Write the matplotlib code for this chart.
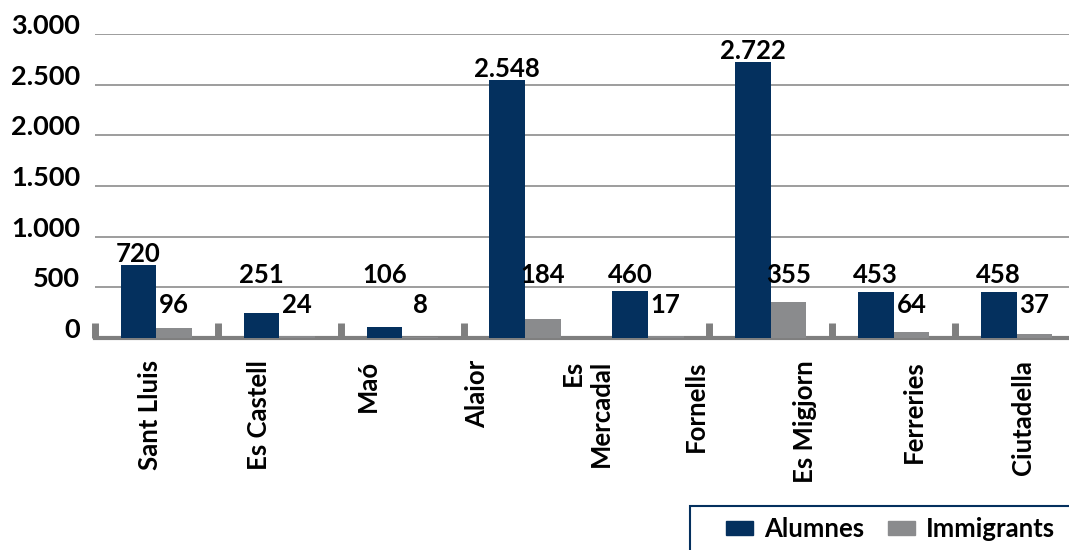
import matplotlib
matplotlib.use("Agg")
import matplotlib.pyplot as plt
from matplotlib.patches import Rectangle, Patch
from matplotlib.transforms import ScaledTranslation
import numpy as np

# ---- data ----
categories = ["Sant Lluis", "Es Castell", "Maó", "Alaior", "Es\nMercadal",
              "Fornells", "Es Migjorn", "Ferreries", "Ciutadella"]
alumnes = [720, 251, 106, 2548, 460, 2722, 453, 458]
immigrants = [96, 24, 8, 184, 17, 355, 64, 37]
series_names = ["Alumnes", "Immigrants"]
y_ticks = [0, 500, 1000, 1500, 2000, 2500, 3000]

NAVY = "#04305e"
GRAY = "#8a8b8d"
AXGRAY = "#7f7f7f"

plt.rcParams['font.family'] = ['Lato', 'DejaVu Sans']
FS = 18.5
WT = 700

W, H = 1069, 550
fig = plt.figure(figsize=(W / 100, H / 100), dpi=100)
x0, x1 = 95, 1078
y0, y1 = 338, 34
ax = fig.add_axes([x0 / W, 1 - y0 / H, (x1 - x0) / W, (y0 - y1) / H])

ngroups = len(alumnes)
pos = np.arange(ngroups) + 0.5
w = 0.29
ax.bar(pos - w / 2, alumnes, w, color=NAVY, zorder=5, label=series_names[0])
ax.bar(pos + w / 2, immigrants, w, color=GRAY, zorder=5, label=series_names[1])

fmt = lambda v: f"{int(v):,}".replace(",", ".")

for p, v in zip(pos, alumnes):
    ax.annotate(fmt(v), (p - w / 2, max(v, 515)), xytext=(0, 3), textcoords="offset pixels",
                ha="center", va="baseline", fontsize=FS, fontweight=WT, zorder=6)
for p, v in zip(pos, immigrants):
    yy = 515 if v > 150 else 215
    ax.annotate(fmt(v), (p + w / 2, yy), xytext=(0, 3), textcoords="offset pixels",
                ha="center", va="baseline", fontsize=FS, fontweight=WT, zorder=6)

ax.set_xlim(0, ngroups)
ax.set_ylim(0, 3000)
ax.set_yticks(y_ticks)
ax.tick_params(axis="y", length=0, labelleft=False)
ax.grid(axis="y", color="#8c8c8c", linewidth=1.2, zorder=0)
ax.set_axisbelow(True)

# y labels sitting on their gridlines (baseline-aligned)
ylab_tr = ax.get_yaxis_transform() + ScaledTranslation(-0.15, 0, fig.dpi_scale_trans)
for v in y_ticks:
    ax.text(0, v, fmt(v), transform=ylab_tr, ha="right", va="baseline",
            fontsize=19.5, fontweight=WT)

# category labels spread over 9 equal bins
lab_pos = (np.arange(len(categories)) + 0.5) * ngroups / len(categories)
ax.set_xticks(lab_pos)
ax.set_xticklabels(categories, rotation=90, ha="center", va="top",
                   multialignment="right", fontsize=FS, fontweight=WT)
ax.tick_params(axis="x", which="major", length=0, pad=16)
ax.set_xticks(np.arange(ngroups + 1), minor=True)
ax.tick_params(axis="x", which="minor", direction="in", length=11, width=5, color=AXGRAY)

for s in ["left", "right", "top"]:
    ax.spines[s].set_visible(False)
ax.spines["bottom"].set_color(AXGRAY)
ax.spines["bottom"].set_linewidth(3)
ax.spines["bottom"].set_zorder(4)

# legend frame (cut by figure edge)
fig.patches.append(Rectangle((690 / W, -0.2), 1, (H - 506) / H + 0.2, transform=fig.transFigure,
                             fill=False, ec=NAVY, lw=1.5))
handles = [Patch(color=NAVY), Patch(color=GRAY)]
fig.legend(handles, series_names, loc="upper left", bbox_to_anchor=(726 / W, 1 - 517 / H),
           ncol=2, frameon=False, borderpad=0, borderaxespad=0,
           handlelength=1.05, handleheight=0.45, handletextpad=0.45, columnspacing=0.9,
           prop={"size": FS, "weight": WT})

fig.savefig("out.png", dpi=100)
